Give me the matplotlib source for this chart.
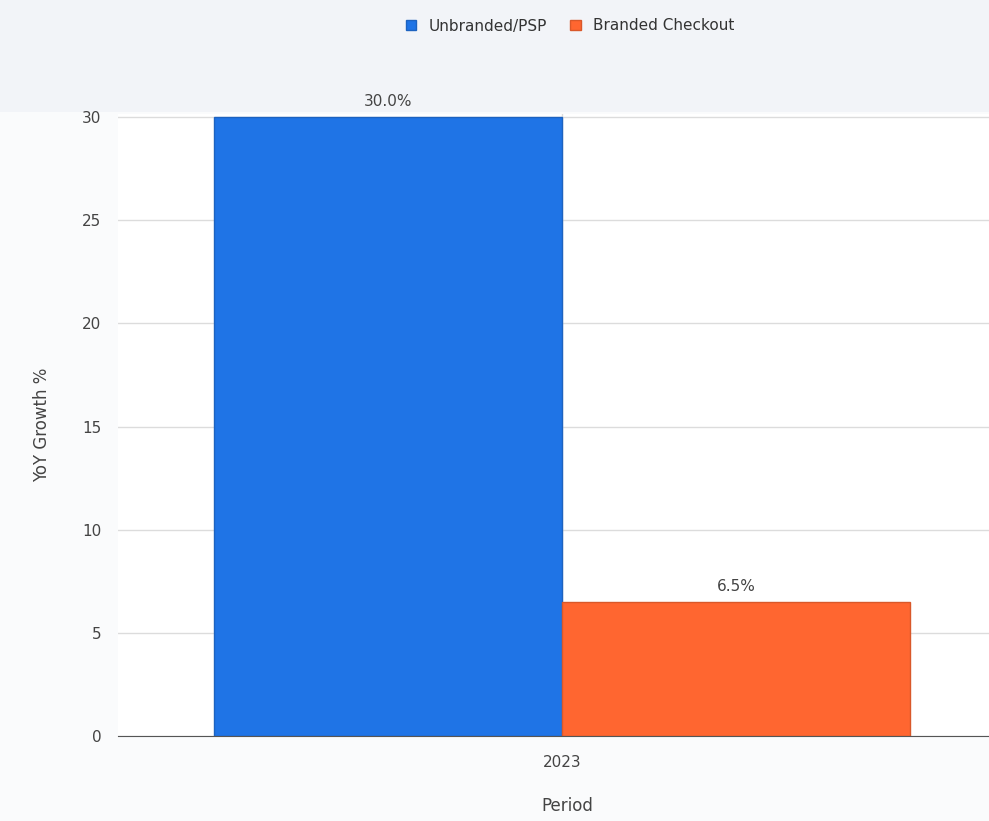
import matplotlib.pyplot as plt
import matplotlib.patches as mpatches
import numpy as np

categories = ["2023"]
series_names = ["Unbranded/PSP", "Branded Checkout"]
unbranded = [30.0]
branded = [6.5]
colors = ["#1f74e6", "#ff6630"]

fig = plt.figure(figsize=(9.89, 8.21), dpi=100)
fig.patch.set_facecolor("#fafbfc")
W, H = 989, 821
# light top band behind the legend
fig.patches.append(mpatches.Rectangle((0, 1 - 112 / H), 1, 112 / H, transform=fig.transFigure,
                                      facecolor="#f2f4f8", edgecolor="none", zorder=-5))
left_px, right_px, top_px, bot_px = 118, 989, 114, 736
ax = fig.add_axes([left_px / W, 1 - bot_px / H, (right_px - left_px) / W, (bot_px - top_px) / H])
ax.set_facecolor("white")
ax.set_zorder(1)

bw = 0.4
x = np.arange(len(categories))
b1 = ax.bar(x - bw / 2, unbranded, bw, color=colors[0], edgecolor="#1d63c0", linewidth=1, label=series_names[0], zorder=3)
b2 = ax.bar(x + bw / 2, branded, bw, color=colors[1], edgecolor="#d9582a", linewidth=1, label=series_names[1], zorder=3)

for bars, vals in ((b1, unbranded), (b2, branded)):
    for r, v in zip(bars, vals):
        ax.text(r.get_x() + r.get_width() / 2, v + 0.4, f"{v:.1f}%", ha="center", va="bottom",
                fontsize=11, color="#444444", zorder=4)

ax.set_xlim(-bw * 444 / 348, bw * 427 / 348)
ax.set_ylim(0, 30.15)
ax.set_yticks([0, 5, 10, 15, 20, 25, 30])
ax.set_xticks(x)
ax.set_xticklabels(categories)
ax.grid(True, axis="both", color="#dcdcdc", linewidth=1, zorder=0)
for s in ["top", "right", "left"]:
    ax.spines[s].set_visible(False)
ax.spines["bottom"].set_color("#555555")
ax.spines["bottom"].set_zorder(5)
ax.tick_params(axis="both", length=0, labelsize=11, labelcolor="#444444")
ax.tick_params(axis="y", pad=12)
ax.tick_params(axis="x", pad=14)
ax.set_ylabel("YoY Growth %", fontsize=12, color="#444444", labelpad=22)
ax.set_xlabel("Period", fontsize=12, color="#444444")
ax.xaxis.set_label_coords((567 - left_px) / (right_px - left_px), -(806 - bot_px) / (bot_px - top_px))
ax.xaxis.label.set_va("center")

fig.legend(handles=[b1, b2], labels=series_names, loc="center", bbox_to_anchor=(570 / W, 1 - 26 / H),
           ncol=2, frameon=False, fontsize=11, handlelength=0.7, handleheight=0.7, columnspacing=1.5,
           handletextpad=0.8, labelcolor="#333333")

fig.savefig("out.png", dpi=100, facecolor=fig.get_facecolor())
